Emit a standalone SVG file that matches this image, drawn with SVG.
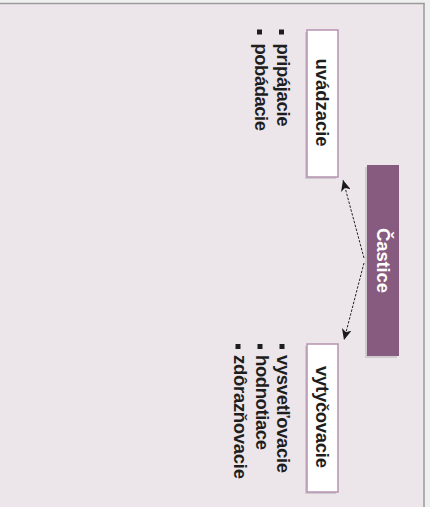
<svg xmlns="http://www.w3.org/2000/svg" width="430" height="507" viewBox="0 0 430 507">
<defs>
<style>
.t{font-family:"Liberation Sans",Arial,Helvetica,sans-serif;font-weight:bold;font-size:18.5px;fill:#1e1e1e}
.box{fill:#ffffff;stroke:#b693b1;stroke-width:1.5}
.sh{fill:#000;opacity:0.12}
.bul{fill:#1e1e1e}
.con{stroke:#222;stroke-width:1;stroke-dasharray:2.5,1.5;fill:none}
</style>
<marker id="ah" markerWidth="12" markerHeight="10" refX="11" refY="5" orient="auto" markerUnits="userSpaceOnUse">
<path d="M0,0 L11,5 L0,10 L3,5 Z" fill="#1a1a1a"/>
</marker>
</defs>
<rect x="0" y="0" width="430" height="507" fill="#f0eff0"/>
<rect x="0" y="4" width="424" height="503" fill="#ece6eb"/>
<line x1="0" y1="3.5" x2="424.5" y2="3.5" stroke="#9a9a9a" stroke-width="1.5"/>
<line x1="424" y1="3" x2="424" y2="507" stroke="#9a9a9a" stroke-width="1.5"/>

<g id="connectors">
<line class="con" x1="364" y1="258" x2="343" y2="180" marker-end="url(#ah)"/>
<line class="con" x1="364" y1="263" x2="344" y2="340" marker-end="url(#ah)"/>
</g>

<g id="castice">
<rect class="sh" x="365" y="167" width="32" height="191"/>
<rect x="367" y="165" width="32" height="191" fill="#875a80"/>
<text class="t" style="fill:#ffffff" text-anchor="middle" textLength="65" transform="translate(377,260.5) rotate(90)">Častice</text>
</g>

<g id="uvadzacie">
<rect class="sh" x="305" y="32" width="31" height="147"/>
<rect class="box" x="307" y="30" width="31" height="147"/>
<text class="t" text-anchor="middle" textLength="88" transform="translate(315.5,102.5) rotate(90)">uvádzacie</text>
</g>

<g id="uvadzacie-list">
<rect class="bul" x="279" y="29.5" width="5" height="5"/>
<rect class="bul" x="257" y="29.5" width="5" height="5"/>
<text class="t" textLength="83" transform="translate(277,43.5) rotate(90)">pripájacie</text>
<text class="t" textLength="87.5" transform="translate(255,43.5) rotate(90)">pobádacie</text>
</g>

<g id="vytycovacie">
<rect class="sh" x="305" y="346" width="31" height="148"/>
<rect class="box" x="307" y="344" width="31" height="148"/>
<text class="t" text-anchor="middle" textLength="102" transform="translate(315.5,417) rotate(90)">vytyčovacie</text>
</g>

<g id="vytycovacie-list">
<rect class="bul" x="279.5" y="344" width="5" height="5"/>
<rect class="bul" x="257.5" y="344" width="5" height="5"/>
<rect class="bul" x="235.5" y="344" width="5" height="5"/>
<text class="t" textLength="118" transform="translate(277,355) rotate(90)">vysvetľovacie</text>
<text class="t" textLength="95" transform="translate(255.5,355) rotate(90)">hodnotiace</text>
<text class="t" textLength="124" transform="translate(234,355) rotate(90)">zdôrazňovacie</text>
</g>
</svg>
